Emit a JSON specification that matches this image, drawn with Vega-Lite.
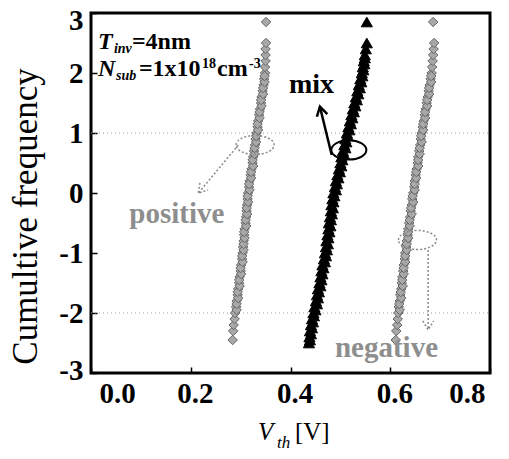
{
  "$schema": "https://vega.github.io/schema/vega-lite/v6.json",
  "width": 399,
  "height": 360,
  "autosize": {"type": "none"},
  "padding": {"left": 91, "top": 13, "right": 19, "bottom": 86},
  "background": "white",
  "config": {
    "view": {"stroke": "black", "strokeWidth": 3},
    "axis": {
      "domain": false, "grid": false,
      "labelFont": "Liberation Serif", "labelFontWeight": "bold", "labelFontSize": 28, "labelColor": "black",
      "tickColor": "black", "tickSize": -6, "tickWidth": 1.5,
      "titleFont": "Liberation Serif", "titleColor": "black"
    }
  },
  "datasets": {
    "pts": [
      {"s":"p","y":-2.45,"x":0.284},{"s":"p","y":-2.3,"x":0.285},{"s":"p","y":-2.2,"x":0.286},{"s":"p","y":-2.1,"x":0.288},{"s":"p","y":-2.0,"x":0.289},
      {"s":"p","y":-1.9,"x":0.291},{"s":"p","y":-1.8,"x":0.292},{"s":"p","y":-1.7,"x":0.294},{"s":"p","y":-1.6,"x":0.295},{"s":"p","y":-1.5,"x":0.297},
      {"s":"p","y":-1.4,"x":0.298},{"s":"p","y":-1.3,"x":0.300},{"s":"p","y":-1.2,"x":0.301},{"s":"p","y":-1.1,"x":0.303},{"s":"p","y":-1.0,"x":0.304},
      {"s":"p","y":-0.9,"x":0.305},{"s":"p","y":-0.8,"x":0.306},{"s":"p","y":-0.7,"x":0.307},{"s":"p","y":-0.6,"x":0.308},{"s":"p","y":-0.5,"x":0.310},
      {"s":"p","y":-0.4,"x":0.311},{"s":"p","y":-0.3,"x":0.312},{"s":"p","y":-0.2,"x":0.313},{"s":"p","y":-0.1,"x":0.314},{"s":"p","y":0.0,"x":0.315},
      {"s":"p","y":0.1,"x":0.317},{"s":"p","y":0.2,"x":0.318},{"s":"p","y":0.3,"x":0.320},{"s":"p","y":0.4,"x":0.322},{"s":"p","y":0.5,"x":0.324},
      {"s":"p","y":0.6,"x":0.325},{"s":"p","y":0.7,"x":0.327},{"s":"p","y":0.8,"x":0.329},{"s":"p","y":0.9,"x":0.330},{"s":"p","y":1.0,"x":0.332},
      {"s":"p","y":1.1,"x":0.334},{"s":"p","y":1.2,"x":0.335},{"s":"p","y":1.3,"x":0.337},{"s":"p","y":1.4,"x":0.339},{"s":"p","y":1.5,"x":0.341},
      {"s":"p","y":1.6,"x":0.342},{"s":"p","y":1.7,"x":0.344},{"s":"p","y":1.8,"x":0.346},{"s":"p","y":1.9,"x":0.347},{"s":"p","y":2.0,"x":0.349},
      {"s":"p","y":2.1,"x":0.349},{"s":"p","y":2.2,"x":0.350},{"s":"p","y":2.3,"x":0.350},{"s":"p","y":2.4,"x":0.350},{"s":"p","y":2.5,"x":0.351},
      {"s":"p","y":2.85,"x":0.351},
      {"s":"p","y":-1.95,"x":0.292},{"s":"p","y":-1.85,"x":0.292},{"s":"p","y":-1.75,"x":0.295},{"s":"p","y":-1.65,"x":0.294},{"s":"p","y":-1.55,"x":0.298},
      {"s":"p","y":-1.45,"x":0.297},{"s":"p","y":-1.35,"x":0.301},{"s":"p","y":-1.25,"x":0.300},{"s":"p","y":-1.15,"x":0.304},{"s":"p","y":-1.05,"x":0.303},
      {"s":"p","y":-0.95,"x":0.306},{"s":"p","y":-0.85,"x":0.306},{"s":"p","y":-0.75,"x":0.308},{"s":"p","y":-0.65,"x":0.307},{"s":"p","y":-0.55,"x":0.311},
      {"s":"p","y":-0.45,"x":0.310},{"s":"p","y":-0.35,"x":0.313},{"s":"p","y":-0.25,"x":0.312},{"s":"p","y":-0.15,"x":0.315},{"s":"p","y":-0.05,"x":0.314},
      {"s":"p","y":0.05,"x":0.318},{"s":"p","y":0.15,"x":0.317},{"s":"p","y":0.25,"x":0.321},{"s":"p","y":0.35,"x":0.321},{"s":"p","y":0.45,"x":0.325},
      {"s":"p","y":0.55,"x":0.324},{"s":"p","y":0.65,"x":0.328},{"s":"p","y":0.75,"x":0.328},{"s":"p","y":0.85,"x":0.331},{"s":"p","y":0.95,"x":0.331},
      {"s":"p","y":1.05,"x":0.335},{"s":"p","y":1.15,"x":0.334},{"s":"p","y":1.25,"x":0.338},{"s":"p","y":1.35,"x":0.338},{"s":"p","y":1.45,"x":0.342},
      {"s":"p","y":1.55,"x":0.341},{"s":"p","y":1.65,"x":0.345},{"s":"p","y":1.75,"x":0.345},{"s":"p","y":1.85,"x":0.348},{"s":"p","y":1.95,"x":0.348},
      {"s":"n","y":-2.45,"x":0.611},{"s":"n","y":-2.3,"x":0.612},{"s":"n","y":-2.2,"x":0.614},{"s":"n","y":-2.1,"x":0.615},{"s":"n","y":-2.0,"x":0.616},
      {"s":"n","y":-1.9,"x":0.617},{"s":"n","y":-1.8,"x":0.619},{"s":"n","y":-1.7,"x":0.620},{"s":"n","y":-1.6,"x":0.622},{"s":"n","y":-1.5,"x":0.623},
      {"s":"n","y":-1.4,"x":0.624},{"s":"n","y":-1.3,"x":0.626},{"s":"n","y":-1.2,"x":0.627},{"s":"n","y":-1.1,"x":0.629},{"s":"n","y":-1.0,"x":0.630},
      {"s":"n","y":-0.9,"x":0.632},{"s":"n","y":-0.8,"x":0.633},{"s":"n","y":-0.7,"x":0.635},{"s":"n","y":-0.6,"x":0.636},{"s":"n","y":-0.5,"x":0.638},
      {"s":"n","y":-0.4,"x":0.640},{"s":"n","y":-0.3,"x":0.641},{"s":"n","y":-0.2,"x":0.643},{"s":"n","y":-0.1,"x":0.644},{"s":"n","y":0.0,"x":0.646},
      {"s":"n","y":0.1,"x":0.648},{"s":"n","y":0.2,"x":0.649},{"s":"n","y":0.3,"x":0.651},{"s":"n","y":0.4,"x":0.653},{"s":"n","y":0.5,"x":0.655},
      {"s":"n","y":0.6,"x":0.656},{"s":"n","y":0.7,"x":0.658},{"s":"n","y":0.8,"x":0.660},{"s":"n","y":0.9,"x":0.661},{"s":"n","y":1.0,"x":0.663},
      {"s":"n","y":1.1,"x":0.665},{"s":"n","y":1.2,"x":0.667},{"s":"n","y":1.3,"x":0.669},{"s":"n","y":1.4,"x":0.671},{"s":"n","y":1.5,"x":0.673},
      {"s":"n","y":1.6,"x":0.675},{"s":"n","y":1.7,"x":0.677},{"s":"n","y":1.8,"x":0.679},{"s":"n","y":1.9,"x":0.681},{"s":"n","y":2.0,"x":0.683},
      {"s":"n","y":2.1,"x":0.684},{"s":"n","y":2.2,"x":0.685},{"s":"n","y":2.3,"x":0.686},{"s":"n","y":2.4,"x":0.687},{"s":"n","y":2.5,"x":0.688},
      {"s":"n","y":2.85,"x":0.686},
      {"s":"n","y":-1.95,"x":0.619},{"s":"n","y":-1.85,"x":0.618},{"s":"n","y":-1.75,"x":0.622},{"s":"n","y":-1.65,"x":0.621},{"s":"n","y":-1.55,"x":0.625},
      {"s":"n","y":-1.45,"x":0.624},{"s":"n","y":-1.35,"x":0.627},{"s":"n","y":-1.25,"x":0.627},{"s":"n","y":-1.15,"x":0.630},{"s":"n","y":-1.05,"x":0.630},
      {"s":"n","y":-0.95,"x":0.633},{"s":"n","y":-0.85,"x":0.633},{"s":"n","y":-0.75,"x":0.636},{"s":"n","y":-0.65,"x":0.636},{"s":"n","y":-0.55,"x":0.639},
      {"s":"n","y":-0.45,"x":0.639},{"s":"n","y":-0.35,"x":0.643},{"s":"n","y":-0.25,"x":0.642},{"s":"n","y":-0.15,"x":0.646},{"s":"n","y":-0.05,"x":0.645},
      {"s":"n","y":0.05,"x":0.649},{"s":"n","y":0.15,"x":0.649},{"s":"n","y":0.25,"x":0.652},{"s":"n","y":0.35,"x":0.652},{"s":"n","y":0.45,"x":0.656},
      {"s":"n","y":0.55,"x":0.656},{"s":"n","y":0.65,"x":0.659},{"s":"n","y":0.75,"x":0.659},{"s":"n","y":0.85,"x":0.663},{"s":"n","y":0.95,"x":0.662},
      {"s":"n","y":1.05,"x":0.666},{"s":"n","y":1.15,"x":0.666},{"s":"n","y":1.25,"x":0.670},{"s":"n","y":1.35,"x":0.670},{"s":"n","y":1.45,"x":0.674},
      {"s":"n","y":1.55,"x":0.674},{"s":"n","y":1.65,"x":0.678},{"s":"n","y":1.75,"x":0.678},{"s":"n","y":1.85,"x":0.682},{"s":"n","y":1.95,"x":0.682},
      {"s":"m","y":-2.5,"x":0.437},{"s":"m","y":-2.4,"x":0.438},{"s":"m","y":-2.3,"x":0.439},{"s":"m","y":-2.2,"x":0.441},{"s":"m","y":-2.1,"x":0.443},
      {"s":"m","y":-2.0,"x":0.446},{"s":"m","y":-1.9,"x":0.448},{"s":"m","y":-1.8,"x":0.451},{"s":"m","y":-1.7,"x":0.453},{"s":"m","y":-1.6,"x":0.455},
      {"s":"m","y":-1.5,"x":0.458},{"s":"m","y":-1.4,"x":0.460},{"s":"m","y":-1.3,"x":0.462},{"s":"m","y":-1.2,"x":0.464},{"s":"m","y":-1.1,"x":0.467},
      {"s":"m","y":-1.0,"x":0.469},{"s":"m","y":-0.9,"x":0.471},{"s":"m","y":-0.8,"x":0.472},{"s":"m","y":-0.7,"x":0.474},{"s":"m","y":-0.6,"x":0.476},
      {"s":"m","y":-0.5,"x":0.477},{"s":"m","y":-0.4,"x":0.479},{"s":"m","y":-0.3,"x":0.481},{"s":"m","y":-0.2,"x":0.482},{"s":"m","y":-0.1,"x":0.484},
      {"s":"m","y":0.0,"x":0.486},{"s":"m","y":0.1,"x":0.489},{"s":"m","y":0.2,"x":0.491},{"s":"m","y":0.3,"x":0.494},{"s":"m","y":0.4,"x":0.497},
      {"s":"m","y":0.5,"x":0.500},{"s":"m","y":0.6,"x":0.502},{"s":"m","y":0.7,"x":0.505},{"s":"m","y":0.8,"x":0.508},{"s":"m","y":0.9,"x":0.510},
      {"s":"m","y":1.0,"x":0.513},{"s":"m","y":1.1,"x":0.516},{"s":"m","y":1.2,"x":0.519},{"s":"m","y":1.3,"x":0.522},{"s":"m","y":1.4,"x":0.525},
      {"s":"m","y":1.5,"x":0.528},{"s":"m","y":1.6,"x":0.531},{"s":"m","y":1.7,"x":0.534},{"s":"m","y":1.8,"x":0.537},{"s":"m","y":1.9,"x":0.540},
      {"s":"m","y":2.0,"x":0.543},{"s":"m","y":2.1,"x":0.545},{"s":"m","y":2.2,"x":0.547},{"s":"m","y":2.3,"x":0.549},{"s":"m","y":2.4,"x":0.551},
      {"s":"m","y":2.5,"x":0.553},{"s":"m","y":2.85,"x":0.553},
      {"s":"m","y":-2.45,"x":0.439},{"s":"m","y":-2.35,"x":0.441},{"s":"m","y":-2.25,"x":0.443},{"s":"m","y":-2.15,"x":0.445},{"s":"m","y":-2.05,"x":0.447},
      {"s":"m","y":-1.95,"x":0.450},{"s":"m","y":-1.85,"x":0.453},{"s":"m","y":-1.75,"x":0.455},{"s":"m","y":-1.65,"x":0.457},{"s":"m","y":-1.55,"x":0.460},
      {"s":"m","y":-1.45,"x":0.462},{"s":"m","y":-1.35,"x":0.464},{"s":"m","y":-1.25,"x":0.466},{"s":"m","y":-1.15,"x":0.469},{"s":"m","y":-1.05,"x":0.471},
      {"s":"m","y":-0.95,"x":0.473},{"s":"m","y":-0.85,"x":0.475},{"s":"m","y":-0.75,"x":0.476},{"s":"m","y":-0.65,"x":0.478},{"s":"m","y":-0.55,"x":0.480},
      {"s":"m","y":-0.45,"x":0.481},{"s":"m","y":-0.35,"x":0.483},{"s":"m","y":-0.25,"x":0.485},{"s":"m","y":-0.15,"x":0.486},{"s":"m","y":-0.05,"x":0.488},
      {"s":"m","y":0.05,"x":0.491},{"s":"m","y":0.15,"x":0.493},{"s":"m","y":0.25,"x":0.496},{"s":"m","y":0.35,"x":0.499},{"s":"m","y":0.45,"x":0.502},
      {"s":"m","y":0.55,"x":0.504},{"s":"m","y":0.65,"x":0.507},{"s":"m","y":0.75,"x":0.510},{"s":"m","y":0.85,"x":0.512},{"s":"m","y":0.95,"x":0.515},
      {"s":"m","y":1.05,"x":0.518},{"s":"m","y":1.15,"x":0.521},{"s":"m","y":1.25,"x":0.524},{"s":"m","y":1.35,"x":0.527},{"s":"m","y":1.45,"x":0.530},
      {"s":"m","y":1.55,"x":0.533},{"s":"m","y":1.65,"x":0.536},{"s":"m","y":1.75,"x":0.539},{"s":"m","y":1.85,"x":0.542},{"s":"m","y":1.95,"x":0.544},
      {"s":"m","y":2.05,"x":0.546},{"s":"m","y":2.15,"x":0.548},{"s":"m","y":2.25,"x":0.549}
    ],
    "grid": [{"x":0,"x2":0.8,"y":1},{"x":0,"x2":0.8,"y":-2}],
    "ellGray": [{"x":0.329,"y":0.8},{"x":0.6546,"y":-0.783}],
    "ellMix": [{"x":0.517,"y":0.717}],
    "arrGray": [{"x":0.2954,"y":0.8,"x2":0.215,"y2":-0.005},{"x":0.676,"y":-0.95,"x2":0.676,"y2":-2.283}],
    "arrMix": [{"x":0.4826,"y":0.633,"x2":0.459,"y2":1.438}],
    "bigBold": [{"x":0.082,"y":2.4,"t":"=4nm"},{"x":0.096,"y":1.95,"t":"=1x10"},{"x":0.2526,"y":1.95,"t":"cm"}],
    "bigItal": [{"x":0.014,"y":2.4,"t":"T"},{"x":0.014,"y":1.95,"t":"N"}],
    "subItal": [{"x":0.046,"y":2.333,"t":"inv"},{"x":0.050,"y":1.883,"t":"sub"}],
    "supBold": [{"x":0.2226,"y":2.083,"t":"18"},{"x":0.317,"y":2.083,"t":"-3"}],
    "xtMain": [{"x":0.335,"y":-4.117,"t":"V"}],
    "xtSub": [{"x":0.373,"y":-4.25,"t":"th"}],
    "xtRest": [{"x":0.409,"y":-4.117,"t":"[V]"}]
  },
  "encoding": {
    "x": {"field": "x", "type": "quantitative", "scale": {"domain": [0, 0.8], "nice": false, "zero": false},
          "axis": {"values": [0, 0.2, 0.4, 0.6, 0.8], "labelExpr": "format(datum.value, '.1f')", "labelPadding": 12, "title": null,
                   "labelFont": "Liberation Serif", "labelFontWeight": "bold", "labelFontSize": 29,
                   "labelOffset": {"condition": [{"test": "datum.value === 0", "value": 8}, {"test": "datum.value === 0.8", "value": -5}], "value": 4}}},
    "y": {"field": "y", "type": "quantitative", "scale": {"domain": [-3, 3], "nice": false, "zero": false},
          "axis": {"values": [-3, -2, -1, 0, 1, 2, 3], "labelExpr": "'' + datum.value", "labelPadding": 14,
                   "labelFont": "Liberation Serif", "labelFontWeight": "bold", "labelFontSize": 29,
                   "labelOffset": {"condition": [{"test": "datum.value === 3", "value": 7}, {"test": "datum.value === -3", "value": -3}], "value": 0},
                   "title": "Cumultive frequency", "titleFont": "Liberation Serif", "titleFontSize": 35, "titleFontWeight": "normal",
                   "titleX": -66, "titleY": 203, "titleBaseline": "middle", "titleAngle": -90}}
  },
  "layer": [
    {"data": {"name": "grid"}, "mark": {"type": "rule", "color": "#9a9a9a", "strokeWidth": 1, "strokeDash": [1, 3]},
     "encoding": {"x2": {"field": "x2"}}},
    {"data": {"name": "pts"}, "transform": [{"filter": "datum.s !== 'm'"}],
     "mark": {"type": "point", "shape": "diamond", "filled": true, "size": 90, "fill": "#a8a8a8", "stroke": "#666666", "strokeWidth": 1, "opacity": 1}},
    {"data": {"name": "pts"}, "transform": [{"filter": "datum.s === 'm'"}],
     "mark": {"type": "point", "shape": "triangle-up", "filled": true, "size": 125, "fill": "black", "stroke": "black", "strokeWidth": 1, "opacity": 1}},
    {"data": {"name": "ellGray"},
     "mark": {"type": "point", "shape": "M -1 0 A 1 0.5 0 1 1 1 0 A 1 0.5 0 1 1 -1 0 Z", "size": 1444, "filled": false, "fill": null, "stroke": "#8a8a8a", "strokeWidth": 1.5, "strokeDash": [2, 2], "opacity": 1}},
    {"data": {"name": "ellMix"},
     "mark": {"type": "point", "shape": "M -1 0 A 1 0.55 0 1 1 1 0 A 1 0.55 0 1 1 -1 0 Z", "size": 1225, "filled": false, "fill": null, "stroke": "black", "strokeWidth": 2, "opacity": 1}},
    {"data": {"name": "arrGray"},
     "mark": {"type": "rule", "color": "#8a8a8a", "strokeWidth": 1.5, "strokeDash": [2, 2]},
     "encoding": {"x2": {"field": "x2"}, "y2": {"field": "y2"}}},
    {"data": {"name": "arrMix"},
     "mark": {"type": "rule", "color": "black", "strokeWidth": 2.5},
     "encoding": {"x2": {"field": "x2"}, "y2": {"field": "y2"}}},
    {"data": {"values": [{"x": 0.215, "y": -0.005}]},
     "mark": {"type": "point", "shape": "M -0.6 -1 L 0 0 L 0.6 -1", "size": 324, "filled": false, "fill": null, "stroke": "#8a8a8a", "strokeWidth": 1.5, "strokeDash": [2, 2], "angle": 40, "opacity": 1}},
    {"data": {"values": [{"x": 0.676, "y": -2.283}]},
     "mark": {"type": "point", "shape": "M -0.6 -1 L 0 0 L 0.6 -1", "size": 324, "filled": false, "fill": null, "stroke": "#8a8a8a", "strokeWidth": 1.5, "strokeDash": [2, 2], "angle": 0, "opacity": 1}},
    {"data": {"values": [{"x": 0.459, "y": 1.438}]},
     "mark": {"type": "point", "shape": "M -0.6 -1 L 0 0 L 0.6 -1", "size": 324, "filled": false, "fill": null, "stroke": "black", "strokeWidth": 2.5, "angle": 166, "opacity": 1}},
    {"data": {"values": [{"x": 0.172, "y": -0.505, "t": "positive"}, {"x": 0.5925, "y": -2.73, "t": "negative"}]},
     "mark": {"type": "text", "font": "Liberation Serif", "fontSize": 29, "fontWeight": "bold", "fill": "#8e8e8e", "align": "center", "baseline": "alphabetic"},
     "encoding": {"text": {"field": "t"}}},
    {"data": {"values": [{"x": 0.442, "y": 1.667, "t": "mix"}]},
     "mark": {"type": "text", "font": "Liberation Serif", "fontSize": 28, "fontWeight": "bold", "fill": "black", "align": "center", "baseline": "alphabetic"},
     "encoding": {"text": {"field": "t"}}},
    {"data": {"name": "bigBold"},
     "mark": {"type": "text", "font": "Liberation Serif", "fontSize": 24, "fontWeight": "bold", "fill": "black", "align": "left", "baseline": "alphabetic"},
     "encoding": {"text": {"field": "t"}}},
    {"data": {"name": "bigItal"},
     "mark": {"type": "text", "font": "Liberation Serif", "fontSize": 24, "fontWeight": "bold", "fontStyle": "italic", "fill": "black", "align": "left", "baseline": "alphabetic"},
     "encoding": {"text": {"field": "t"}}},
    {"data": {"name": "subItal"},
     "mark": {"type": "text", "font": "Liberation Serif", "fontSize": 14, "fontWeight": "bold", "fontStyle": "italic", "fill": "black", "align": "left", "baseline": "alphabetic"},
     "encoding": {"text": {"field": "t"}}},
    {"data": {"name": "supBold"},
     "mark": {"type": "text", "font": "Liberation Serif", "fontSize": 14, "fontWeight": "bold", "fill": "black", "align": "left", "baseline": "alphabetic"},
     "encoding": {"text": {"field": "t"}}},
    {"data": {"name": "xtMain"},
     "mark": {"type": "text", "font": "Liberation Serif", "fontSize": 25, "fontStyle": "italic", "fill": "black", "align": "left", "baseline": "alphabetic"},
     "encoding": {"text": {"field": "t"}}},
    {"data": {"name": "xtSub"},
     "mark": {"type": "text", "font": "Liberation Serif", "fontSize": 17, "fontStyle": "italic", "fill": "black", "align": "left", "baseline": "alphabetic"},
     "encoding": {"text": {"field": "t"}}},
    {"data": {"name": "xtRest"},
     "mark": {"type": "text", "font": "Liberation Serif", "fontSize": 25, "fill": "black", "align": "left", "baseline": "alphabetic"},
     "encoding": {"text": {"field": "t"}}}
  ]
}
